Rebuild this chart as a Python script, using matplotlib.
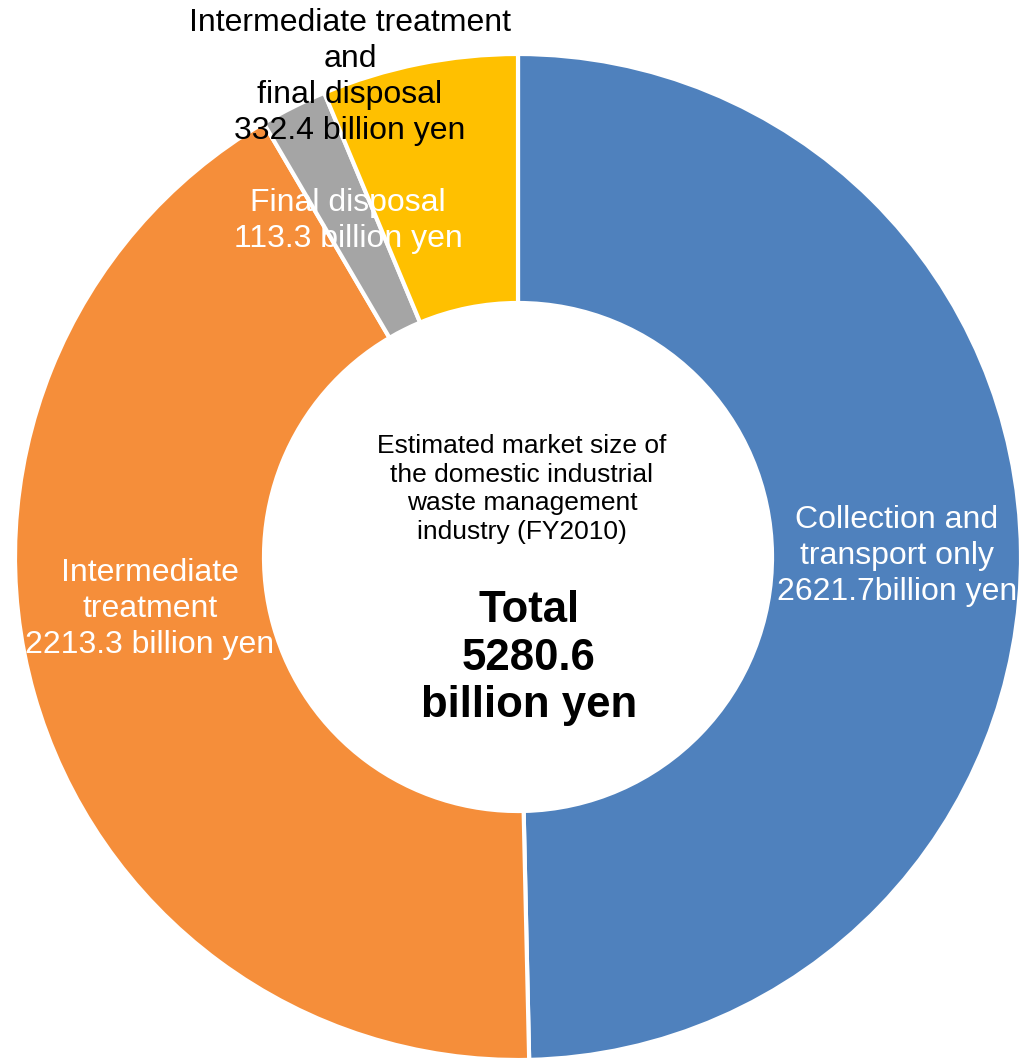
import matplotlib
matplotlib.use("Agg")
import matplotlib.pyplot as plt

categories = ["Collection and transport only", "Intermediate treatment", "Final disposal",
              "Intermediate treatment and final disposal"]
values = [2621.7, 2213.3, 113.3, 332.4]
colors = ["#4F81BD", "#F58E3A", "#A5A5A5", "#FFC000"]
total = 5280.6

plt.rcParams['font.family'] = ['Liberation Sans', 'DejaVu Sans']

W, H = 1019, 1058
fig = plt.figure(figsize=(W / 100, H / 100), dpi=100)
ax = fig.add_axes([0, 0, 1, 1])
ax.set_xlim(0, W)
ax.set_ylim(0, H)
ax.set_aspect('equal')
ax.axis('off')

cx, cy, R = 518, H - 557, 503
ax.pie(values, colors=colors, startangle=90, counterclock=False,
       center=(cx, cy), radius=R,
       wedgeprops=dict(width=R * 0.495, edgecolor='white', linewidth=3))
ax.set_xlim(0, W)
ax.set_ylim(0, H)

def t(x, y, s, **kw):
    ax.text(x, H - y, s, ha='center', va='center', multialignment='center', **kw)

t(897, 556, "Collection and\ntransport only\n2621.7billion yen", color='white', fontsize=23, linespacing=1.25)
t(150, 609, "Intermediate\ntreatment\n2213.3 billion yen", color='white', fontsize=23, linespacing=1.25)
t(348, 221, "Final disposal\n113.3 billion yen", color='white', fontsize=23, linespacing=1.25)
t(350, 77, "Intermediate treatment\nand\nfinal disposal\n332.4 billion yen", color='black', fontsize=23, linespacing=1.25)
t(522, 489, "Estimated market size of\nthe domestic industrial\nwaste management\nindustry (FY2010)", color='black', fontsize=19, linespacing=1.24)
t(529, 658, "Total\n%.1f\nbillion yen" % total, color='black', fontsize=31.5, fontweight='bold', linespacing=1.2)

fig.savefig("out.png", dpi=100)
